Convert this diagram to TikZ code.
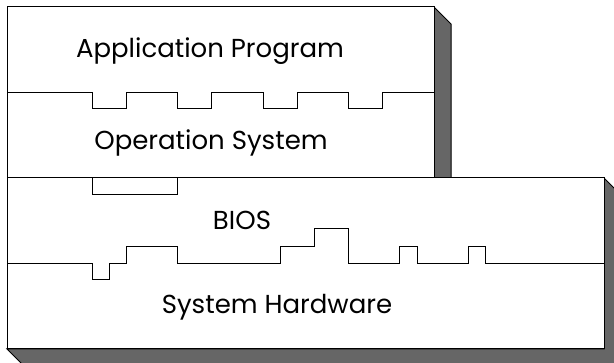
\documentclass[tikz,border=0pt]{standalone}
\usepackage{fontspec}
\setmainfont{Poppins}
\tikzstyle{layer} = [draw=black, fill=white, line width=1pt]
\tikzstyle{shadow} = [draw=black, fill=black!60, line width=1pt]
\tikzstyle{seam} = [draw=black, line width=1pt]
\tikzstyle{label} = [anchor=base, inner sep=0pt, font=\fontsize{26}{28}\selectfont]

\begin{document}
\begin{tikzpicture}[x=1pt, y=-1pt]
    \useasboundingbox (0,0) rectangle (614,363);
    \clip (0,0) rectangle (614,363);

    % shadows
    \filldraw[shadow] (434,7) -- (451,24) -- (451,178) -- (434,178) -- cycle;
    \filldraw[shadow] (604,178) -- (621,195) -- (621,366) -- (24,366) -- (7,349) -- (604,349) -- cycle;

    % layers
    \filldraw[layer] (7,7) rectangle (434,178);
    \filldraw[layer] (7,178) rectangle (604,349);

    % seams between layers
    \draw[seam] (7,93) -- (92,93) |- (126,109) |- (177,93) |- (211,109) |- (263,93)
        |- (297,109) |- (348,93) |- (382,109) |- (434,93);
    \draw[seam] (7,178) -- (92,178) |- (177,195) |- (434,178);
    \draw[seam] (7,264) -- (92,264) |- (109,280) |- (126,264) |- (177,247) |- (280,264)
        |- (314,247) |- (348,229) |- (399,264) |- (417,247) |- (468,264) |- (485,247) |- (604,264);

    \node (app) [label] at (210,58) {Application Program};
    \node (os) [label] at (211,150) {Operation System};
    \node (bios) [label] at (242,230) {BIOS};
    \node (hw) [label] at (277,314) {System Hardware};
\end{tikzpicture}
\end{document}
